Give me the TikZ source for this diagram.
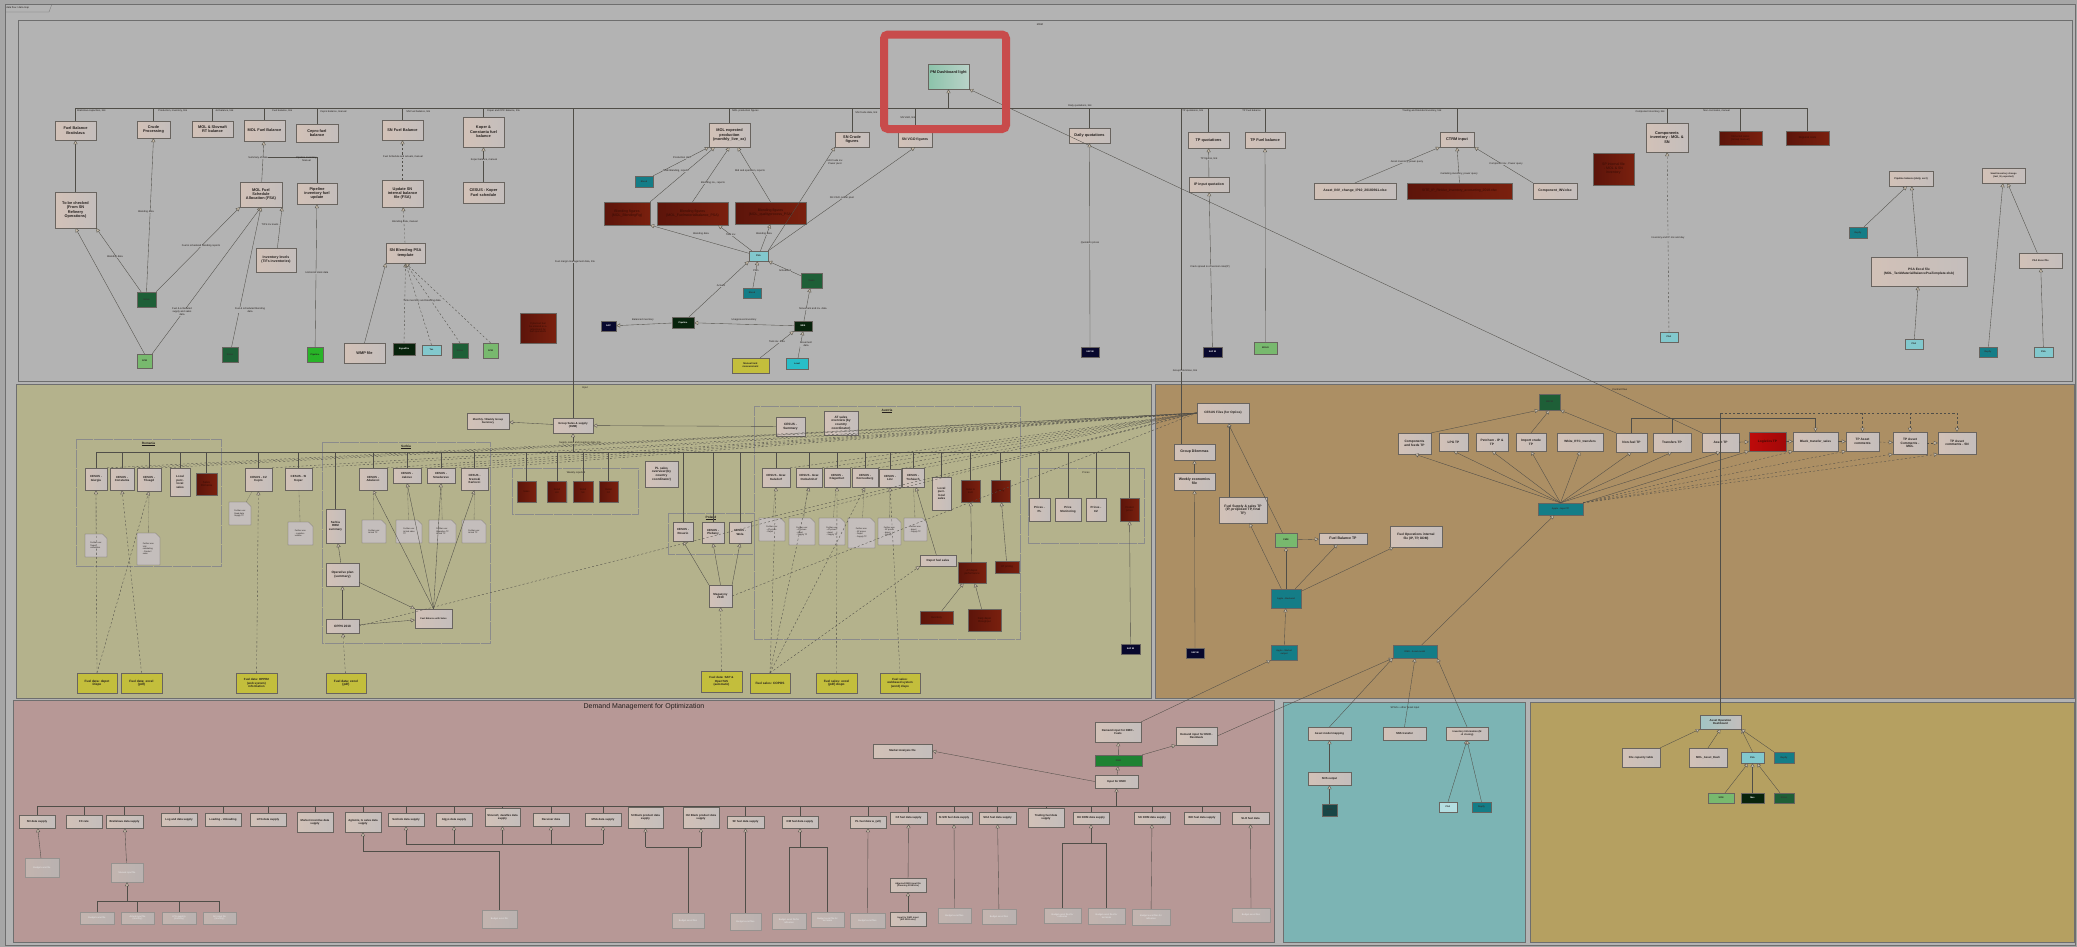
\documentclass[tikz,border=0pt]{standalone}
\usepackage{fontspec}
\setmainfont{Liberation Sans}
\usetikzlibrary{arrows.meta,shadows,shapes.misc}

\definecolor{bgout}{RGB}{166,166,166}
\definecolor{bgtop}{RGB}{179,179,179}
\definecolor{frame}{RGB}{110,110,110}
\definecolor{olivep}{RGB}{180,178,140}
\definecolor{brownp}{RGB}{172,143,100}
\definecolor{pinkp}{RGB}{183,152,150}
\definecolor{tealp}{RGB}{124,180,180}
\definecolor{mustp}{RGB}{181,160,97}
\definecolor{boxl}{RGB}{210,193,183}
\definecolor{boxr}{RGB}{196,190,188}
\definecolor{boxline}{RGB}{105,100,95}
\definecolor{ink}{RGB}{35,30,28}
\definecolor{edge}{RGB}{80,78,72}
\definecolor{arrfill}{RGB}{200,188,170}
\definecolor{drl}{RGB}{92,20,10}
\definecolor{drr}{RGB}{122,32,14}
\definecolor{drtext}{RGB}{55,12,5}
\definecolor{dgreen}{RGB}{30,95,55}
\definecolor{lgreen}{RGB}{120,185,110}
\definecolor{bgreen}{RGB}{40,180,40}
\definecolor{bkgreen}{RGB}{8,35,12}
\definecolor{lcyan}{RGB}{130,200,205}
\definecolor{tealb}{RGB}{20,125,135}
\definecolor{navyb}{RGB}{8,8,45}
\definecolor{yelb}{RGB}{195,190,60}
\definecolor{cyanb}{RGB}{40,190,200}
\definecolor{dmog}{RGB}{30,130,50}
\definecolor{redb}{RGB}{190,10,10}
\definecolor{dteal}{RGB}{25,70,70}
\definecolor{pml}{RGB}{140,195,170}
\definecolor{pmr}{RGB}{185,210,200}
\definecolor{hl}{RGB}{200,75,75}
\definecolor{fadel}{RGB}{195,180,175}
\definecolor{fader}{RGB}{185,178,176}

\tikzset{
  sz/.style 2 args={minimum width=#1*0.5mm, minimum height=#2*0.5mm},
  shad/.style={drop shadow={shadow xshift=0.5mm, shadow yshift=-0.5mm, opacity=0.35}},
  box/.style={draw=boxline, left color=boxl, right color=boxr, text=ink, align=center,
    inner sep=0.4pt, font=\fontsize{5.5}{6.3}\selectfont\bfseries, shad},
  pbox/.style={box, font=\fontsize{4}{4.6}\selectfont\bfseries},
  fbox/.style={draw=boxline!70, left color=fadel, right color=fader, text=white!85!gray, align=center,
    inner sep=0.3pt, font=\fontsize{3.3}{3.8}\selectfont, shad},
  dbox/.style={draw=boxline, left color=drl, right color=drr, text=drtext, align=center,
    inner sep=0.4pt, font=\fontsize{5}{5.6}\selectfont, shad},
  sys/.style 2 args={draw=boxline, fill=#1, text=#2, align=center, inner sep=0.3pt,
    font=\fontsize{3.2}{3.6}\selectfont\bfseries, shad},
  ybox/.style={draw=boxline, fill=yelb, text=ink, align=center, inner sep=0.4pt,
    font=\fontsize{4.5}{5.1}\selectfont\bfseries, shad},
  notebox/.style={draw=boxline, fill=boxr, chamfered rectangle, chamfered rectangle corners=north east,
    chamfered rectangle xsep=1mm, text=ink, align=left, inner sep=0.3pt, font=\fontsize{3}{3.5}\selectfont},
  pmbox/.style={box, left color=pml, right color=pmr},
  grp/.style={draw=frame!80, densely dotted, line width=0.5pt},
  gt/.style={font=\fontsize{4.5}{5}\selectfont\bfseries, text=ink, inner sep=0.5pt},
  ed/.style={draw=edge, line width=0.5pt},
  ar/.style={ed, -{Triangle[length=2mm, width=2mm, fill=arrfill]}},
  dar/.style={ar, dashed},
  dl/.style={ed, dashed},
  lab/.style={font=\fontsize{3.6}{4.2}\selectfont, text=ink, inner sep=0.3pt, align=center}
}

\begin{document}
\begin{tikzpicture}[x=0.5mm, y=-0.5mm]
  % frame and panels
  \useasboundingbox (0,0) rectangle (2077,947);
  \fill[bgout] (0,0) rectangle (2077,947);
  \draw[frame, fill=bgtop] (5,4) rectangle (2075,945);
  \draw[frame] (5,12) -- (49,12) -- (52,4);
  \node[lab, anchor=west] (tab) at (6,8) {data flow / data map};
  \draw[frame, fill=bgtop] (18,20) rectangle (2072,381);
  \draw[frame, fill=olivep] (16,384) rectangle (1151,698);
  \draw[frame, fill=brownp] (1155,384) rectangle (2074,698);
  \draw[frame, fill=pinkp] (13,700) rectangle (1274,942);
  \draw[frame, fill=tealp] (1283,702) rectangle (1525,942);
  \draw[frame, fill=mustp] (1530,702) rectangle (2074,942);
  \node[lab] (mdm) at (1040,25) {MDM};
  \node[lab] (inp) at (585,388) {Input};
  \node[font=\fontsize{10}{12}\selectfont, text=ink] (dmtitle) at (644,707) {Demand Management for Optimization};
  \node[lab] (spgstitle) at (1405,708) {SPGS + other asset input};

  % MDM panel
  \node[box, sz={41}{19}] (fbb) at (75.5,130.5) {Fuel Balance\\Bratislava};
  \node[box, sz={33}{17}] (crude) at (153.5,129.5) {Crude\\Processing};
  \node[box, sz={41}{16}] (molslov) at (212.5,129) {MOL \& Slovnaft\\RT balance};
  \node[box, sz={41}{21}] (molfb) at (264.5,130.5) {MOL Fuel Balance};
  \node[box, sz={42}{18}] (cepro) at (317,133) {Cepro fuel\\balance};
  \node[box, sz={41}{20}] (snfb) at (402.5,130) {SN Fuel Balance};
  \node[box, sz={41}{30}] (koper) at (483.5,132) {Koper \&\\Constanta fuel\\balance};
  \node[box, sz={41}{36}] (tobe) at (75.5,210) {To be checked\\(From SN\\Refinery\\Operations)};
  \node[box, sz={42}{25}] (fsa) at (261,194.5) {MOL Fuel\\Schedule\\Allocation (FSA)};
  \node[box, sz={40}{21}] (pipinv) at (317,193.5) {Pipeline\\inventory fuel\\update};
  \node[box, sz={40}{24}, font=\fontsize{5}{5.8}\selectfont\bfseries] (invlev) at (276,260) {Inventory levels\\(TIFs inventories)};
  \node[box, sz={41}{27}] (updsn) at (402.5,193.5) {Update SN\\internal balance\\file (FSA)};
  \node[box, sz={39}{20}] (snbl) at (405.5,253) {SN Blending PSA\\template};
  \node[box, sz={41}{21}] (cesko) at (483.5,192.5) {CESUS - Koper\\Fuel schedule};
  \node[sys={dgreen}{black!80}, sz={19}{15}] (sdg1) at (146.5,299.5) {Sirius};
  \node[sys={lgreen}{ink}, sz={15}{14}] (slg1) at (144.5,361) {SCM};
  \node[sys={dgreen}{black!80}, sz={16}{15}] (sdg2) at (230,354.5) {Sirius};
  \node[sys={bgreen}{ink}, sz={16}{15}] (sbg) at (315,354.5) {Pipeline};
  \node[box, sz={41}{20}] (wmp) at (364.5,353) {WMP file};
  \node[sys={bkgreen}{white!50}, sz={22}{12}] (sbk1) at (404,349) {Signalfire};
  \node[sys={lcyan}{ink}, sz={19}{10}] (slc1) at (431.5,350) {Tas};
  \node[sys={dgreen}{black!80}, sz={16}{15}] (sdg3) at (460,350.5) {Sirius};
  \node[sys={lgreen}{ink}, sz={15}{15}] (slg2) at (490.5,350.5) {SCM};
  \node[dbox, sz={36}{30}, font=\fontsize{3.5}{4}\selectfont] (dr4) at (538,328) {If planned fuel\\be entered as a\\adjustment by\\fuel operations};

  \node[box, sz={41}{24}] (molexp) at (729.5,135) {MOL expected\\production\\(monthly\_live\_xx)};
  \node[box, sz={34}{15}] (sncr) at (852,139.5) {SN Crude\\figures};
  \node[box, sz={34}{15}, font=\fontsize{5}{5.8}\selectfont\bfseries] (snvgo) at (915,139.5) {SN VGO figures};
  \node[pmbox, sz={41}{25}] (pm) at (948.5,76.5) {PM Dashboard light\\[6pt]\mbox{}};
  \node[sys={tealb}{black!80}, sz={18}{11}] (teal1) at (644,181.5) {Blend};
  \node[dbox, sz={46}{23}] (dr1) at (627,213.5) {Blending figures\\(MOL\_BlendingFig)};
  \node[dbox, sz={71}{23}] (dr2) at (692.5,213.5) {Blending figures\\(MOL\_Fuelmaterialbalance\_PSA)};
  \node[dbox, sz={71}{22}] (dr3) at (770.5,213) {Blending figures\\(MOL\_qualityprocess\_PSA)};
  \node[sys={lcyan}{ink}, sz={19}{10}] (psa1) at (758.5,256) {PSA};
  \node[sys={tealb}{black!80}, sz={18}{10}] (teal2) at (752,293) {Blend};
  \node[sys={dgreen}{black!80}, sz={21}{15}] (grn1) at (811.5,280.5) {Tanks};
  \node[sys={navyb}{white!60}, sz={15}{10}] (navy1) at (608.5,326) {SAP};
  \node[sys={bkgreen}{white!50}, sz={22}{11}] (dg4) at (683,322.5) {Pipeline};
  \node[sys={bkgreen}{white!50}, sz={18}{10}] (dg5) at (803,326) {MES};
  \node[ybox, sz={37}{15}, font=\fontsize{3.5}{4}\selectfont\bfseries] (yel1) at (750.5,365.5) {Manual tank\\measurement};
  \node[sys={cyanb}{ink}, sz={22}{11}] (cya1) at (797,363.5) {Level};

  \node[box, sz={41}{15}] (dailyq) at (1089.5,135.5) {Daily quotations};
  \node[box, sz={41}{16}] (tpq) at (1208.5,140) {TP quotations};
  \node[box, sz={40}{16}] (tpfb) at (1265,140) {TP Fuel balance};
  \node[box, sz={40}{15}, font=\fontsize{5}{5.8}\selectfont\bfseries] (ipq) at (1209,184.5) {IP input quotation};
  \node[box, sz={34}{15}] (ctrm) at (1457,139.5) {CTRM input};
  \node[box, sz={82}{16}, font=\fontsize{4.8}{5.4}\selectfont\bfseries] (xl1) at (1355,191) {Asset\_INV\_change\_IP10\_20180911.xlsx};
  \node[dbox, sz={105}{16}, font=\fontsize{4.8}{5.4}\selectfont] (dr5) at (1459.5,191) {SITE\_IP\_Rinkler\_inventory\_accounting\_2018.xlsx};
  \node[box, sz={44}{16}, font=\fontsize{4.8}{5.4}\selectfont\bfseries] (xl2) at (1555,191) {Component\_INV.xlsx};
  \node[sys={navyb}{white!60}, sz={18}{10}] (navy2) at (1090,352) {SAP BI};
  \node[sys={navyb}{white!60}, sz={19}{10}] (navy3) at (1212.5,352) {SAP BI};
  \node[sys={lgreen}{ink}, sz={23}{12}] (lg3) at (1265.5,348) {MOLO};

  \node[box, sz={42}{29}] (compinv) at (1667,137.5) {Components\\inventory - MOL \&\\SN};
  \node[dbox, sz={43}{14}, font=\fontsize{3.8}{4.3}\selectfont] (dr6) at (1740.5,138) {Non-cost sales\\(Group manual)};
  \node[dbox, sz={43}{14}, font=\fontsize{3.8}{4.3}\selectfont] (dr7) at (1807.5,138) {Regional costs};
  \node[dbox, sz={41}{32}, font=\fontsize{5}{5.8}\selectfont] (dr8) at (1613.5,169) {SP internal file\\- MOL \& SN\\inventory};
  \node[sys={lcyan}{ink}, sz={18}{10}] (psa2) at (1669,337) {PSA};
  \node[box, sz={44}{15}, font=\fontsize{3.5}{4}\selectfont\bfseries] (pipbal) at (1911,178.5) {Pipeline balance (daily, excl)};
  \node[sys={tealb}{black!80}, sz={18}{11}] (teal3) at (1858,232.5) {Repify};
  \node[box, sz={96}{29}, font=\fontsize{4.6}{5.4}\selectfont\bfseries] (psaxl) at (1919,271.5) {PSA Excel file\\(MOL\_TankMaterialBalancePsaTemplate.xlsb)};
  \node[sys={lcyan}{ink}, sz={18}{10}] (psa3) at (1914,344) {PSA};
  \node[box, sz={43}{15}, font=\fontsize{3.3}{3.9}\selectfont\bfseries] (sminv) at (2003.5,175.5) {Small inventory change\\(last\_M\_expected)};
  \node[sys={tealb}{black!80}, sz={18}{10}] (teal4) at (1988,352) {Repify};
  \node[box, sz={43}{15}, font=\fontsize{3.5}{4}\selectfont\bfseries] (psaxl2) at (2040.5,260.5) {PSA Excel file};
  \node[sys={lcyan}{ink}, sz={19}{10}] (psa4) at (2043.5,352) {PSA};

  % Input panel groups
  \draw[grp] (76,439) rectangle (221,566);
  \draw[grp] (322,442) rectangle (490,643);
  \draw[grp] (512,468) rectangle (638,514);
  \draw[grp] (668,513) rectangle (754,554);
  \draw[grp] (754,406) rectangle (1020,639);
  \draw[grp] (1028,468) rectangle (1144,543);
  \node[gt] (tro) at (148.5,444) {\underline{Romania}};
  \node[gt] (tse) at (406,447) {\underline{Serbia}};
  \node[lab] (twe) at (576,473) {Weekly reported};
  \node[gt] (tpo) at (711,518) {\underline{Poland}};
  \node[gt] (tau) at (887,411) {\underline{Austria}};
  \node[lab] (tpr) at (1086,473) {Prices};

  \node[box, sz={40}{15}, font=\fontsize{4}{4.6}\selectfont\bfseries] (grpsales) at (573,425.5) {Group Sales \& supply\\(FMM)};
  \node[box, sz={42}{16}, font=\fontsize{3.8}{4.4}\selectfont\bfseries] (monthly) at (488,421) {Monthly / Weekly Group\\Summary};
  \node[box, sz={29}{19}, font=\fontsize{4.5}{5.2}\selectfont\bfseries] (cesum) at (790.5,426.5) {CESUS -\\Summary};
  \node[box, sz={34}{24}, font=\fontsize{4.5}{5.2}\selectfont\bfseries] (atsales) at (841,423) {AT sales\\overview (by\\country\\coordinator)};

  \node[box, sz={22}{22}, font=\fontsize{4.2}{5}\selectfont\bfseries] (giur) at (96,479) {CESUS -\\Giurgiu};
  \node[box, sz={24}{22}, font=\fontsize{4.2}{5}\selectfont\bfseries] (const) at (122,479) {CESUS -\\Constanta};
  \node[box, sz={24}{23}, font=\fontsize{4.2}{5}\selectfont\bfseries] (tile) at (149,479.5) {CESUS -\\Tileagd};
  \node[box, sz={20}{28}, font=\fontsize{4.2}{5}\selectfont\bfseries] (rolocal) at (180,482) {Local\\purc.\\local\\sales};
  \node[dbox, sz={21}{22}, font=\fontsize{4}{4.6}\selectfont] (rodr) at (206.5,484) {Sales\\Romania};
  \node[notebox, sz={22}{23}] (note1) at (96,545.5) {Further use:\\Target\\calculation};
  \node[notebox, sz={23}{32}] (note2) at (148.5,549) {Further use:\\Unit\\calculating\\- Product\\sales};
  \node[box, sz={27}{23}, font=\fontsize{4.2}{5}\selectfont\bfseries] (czcepro) at (258.5,479.5) {CESUS - CZ\\Cepro};
  \node[box, sz={27}{22}, font=\fontsize{4.2}{5}\selectfont\bfseries] (sikoper) at (298.5,479) {CESUS - SI\\Koper};
  \node[notebox, sz={22}{23}] (notecz) at (240,513.5) {Further use:\\Read data\\Supply TP};
  \node[notebox, sz={25}{23}] (notesi) at (300.5,533.5) {Further use:\\- Logistics\\volume};

  \node[box, sz={19}{34}, font=\fontsize{4.2}{5}\selectfont\bfseries] (rbm) at (335.5,526) {Serbia\\RBM\\summary};
  \node[box, sz={28}{22}, font=\fontsize{4.2}{5}\selectfont\bfseries] (adas) at (373,479) {CESUS -\\Adaševci};
  \node[box, sz={28}{15}, font=\fontsize{4.2}{5}\selectfont\bfseries] (jak) at (407,475.5) {CESUS -\\Jakovo};
  \node[box, sz={28}{15}, font=\fontsize{4.2}{5}\selectfont\bfseries] (smed) at (441,475.5) {CESUS -\\Smederevo};
  \node[box, sz={27}{22}, font=\fontsize{4.2}{5}\selectfont\bfseries] (srem) at (474.5,479) {CESUS -\\Sremski\\Karlovci};
  \node[notebox, sz={24}{23}] (nse1) at (374,531.5) {Further use:\\Actual TP};
  \node[notebox, sz={26}{23}] (nse2) at (409,531.5) {Further use:\\Actual sales\\TP};
  \node[notebox, sz={27}{23}] (nse3) at (442.5,531.5) {Further use:\\Operative TP\\Actual TP};
  \node[notebox, sz={24}{23}] (nse4) at (474,531.5) {Further use:\\Actual TP};
  \node[box, sz={33}{23}, font=\fontsize{4.5}{5.2}\selectfont\bfseries] (opplan) at (342.5,574.5) {Operative plan\\(summary)};
  \node[box, sz={33}{14}, font=\fontsize{4.5}{5.2}\selectfont\bfseries] (oppn) at (342.5,626) {OPPN 2018};
  \node[box, sz={37}{19}, font=\fontsize{3.3}{3.8}\selectfont\bfseries] (fbsales) at (433.5,618.5) {Fuel Balance with Sales};

  \node[dbox, sz={19}{21}, font=\fontsize{3.5}{4}\selectfont] (wdr1) at (526.5,491.5) {Sales};
  \node[dbox, sz={19}{21}, font=\fontsize{3.5}{4}\selectfont] (wdr2) at (557,491.5) {Retail\\HU};
  \node[dbox, sz={20}{21}, font=\fontsize{3.5}{4}\selectfont] (wdr3) at (583,491.5) {Retail\\SK};
  \node[dbox, sz={19}{21}, font=\fontsize{3.5}{4}\selectfont] (wdr4) at (608.5,491.5) {Retail\\CZ};
  \node[box, sz={33}{26}, font=\fontsize{4.5}{5.2}\selectfont\bfseries] (plsales) at (661.5,474) {PL sales\\overview (by\\country\\coordinator)};

  \node[box, sz={20}{19}, font=\fontsize{4.2}{5}\selectfont\bfseries] (pl1) at (683,531.5) {CESUS -\\Rosario};
  \node[box, sz={22}{21}, font=\fontsize{4.2}{5}\selectfont\bfseries] (pl2) at (713,532.5) {CESUS -\\Plebany};
  \node[box, sz={22}{21}, font=\fontsize{4.2}{5}\selectfont\bfseries] (pl3) at (740,532.5) {CESUS -\\Wola};
  \node[box, sz={23}{22}, font=\fontsize{4.2}{5}\selectfont\bfseries] (mag) at (720.5,596) {Magazyny\\2018};

  \node[box, sz={28}{19}, font=\fontsize{4.2}{5}\selectfont\bfseries] (at1) at (776,477.5) {CESUS - Graz\\Kalsdorf};
  \node[box, sz={26}{19}, font=\fontsize{4.2}{5}\selectfont\bfseries] (at2) at (809,477.5) {CESUS - Graz\\Ostbahnhof};
  \node[box, sz={26}{19}, font=\fontsize{4.2}{5}\selectfont\bfseries] (at3) at (837,477.5) {CESUS -\\Klagenfurt};
  \node[box, sz={26}{19}, font=\fontsize{4.2}{5}\selectfont\bfseries] (at4) at (865,477.5) {CESUS -\\Korneuburg};
  \node[box, sz={22}{18}, font=\fontsize{4.2}{5}\selectfont\bfseries] (at5) at (890,478) {CESUS -\\Linz};
  \node[box, sz={22}{19}, font=\fontsize{4.2}{5}\selectfont\bfseries] (at6) at (913,477.5) {CESUS -\\Trofaiach};
  \node[box, sz={19}{33}, font=\fontsize{4.2}{5}\selectfont\bfseries] (atlocal) at (941.5,493.5) {Local\\purc.\\local\\sales};
  \node[dbox, sz={19}{22}, font=\fontsize{3.5}{4}\selectfont] (atdr1) at (970.5,491) {Sales to\\ELR};
  \node[dbox, sz={19}{22}, font=\fontsize{3.5}{4}\selectfont] (atdr2) at (1000.5,491) {Pricing};
  \node[notebox, sz={26}{23}] (nat1) at (772,529.5) {Further use:\\- AT-prices\\- Depot};
  \node[notebox, sz={26}{27}] (nat2) at (802,531.5) {Further use:\\- AT-prices\\- depot\\- Supply TP};
  \node[notebox, sz={26}{27}] (nat3) at (832,531.5) {Further use:\\- AT-prices\\- depot\\- Supply TP};
  \node[notebox, sz={27}{30}] (nat4) at (861.5,533) {Further use:\\- AT-prices\\- Depot\\- Supply TP};
  \node[notebox, sz={23}{27}] (nat5) at (889.5,531.5) {Further use:\\- AT-prices\\- depot\\- Supply};
  \node[notebox, sz={23}{23}] (nat6) at (915.5,529.5) {Further use:\\- depot\\- Supply TP};
  \node[box, sz={36}{11}, font=\fontsize{4.2}{5}\selectfont\bfseries] (depot) at (938,560.5) {Depot fuel sales};
  \node[dbox, sz={28}{21}, font=\fontsize{3.8}{4.4}\selectfont] (atdr3) at (972,572.5) {AT depot\\performance};
  \node[dbox, sz={24}{12}, font=\fontsize{3.8}{4.4}\selectfont] (atdr4) at (1007,567) {AT pricing};
  \node[dbox, sz={33}{13}, font=\fontsize{3.8}{4.4}\selectfont] (atdr5) at (936.5,617.5) {Inventory};
  \node[dbox, sz={33}{22}, font=\fontsize{3.8}{4.4}\selectfont] (atdr6) at (984.5,620) {Daily depot\\throughput};

  \node[box, sz={21}{23}, font=\fontsize{4.2}{5}\selectfont\bfseries] (prpl) at (1039.5,509.5) {Prices -\\PL};
  \node[box, sz={26}{23}, font=\fontsize{4.2}{5}\selectfont\bfseries] (prmon) at (1068,509.5) {Price\\Monitoring};
  \node[box, sz={20}{23}, font=\fontsize{4.2}{5}\selectfont\bfseries] (prcz) at (1096,509.5) {Prices -\\CZ};
  \node[dbox, sz={19}{23}, font=\fontsize{3.5}{4}\selectfont] (prdr) at (1129.5,509.5) {Product\\prices};
  \node[sys={navyb}{white!60}, sz={19}{10}] (navy4) at (1130.5,649) {SAP BI};

  \node[ybox, sz={40}{20}] (y1) at (97,683) {Fuel data: depot\\Dispo};
  \node[ybox, sz={41}{20}] (y2) at (141.5,683) {Fuel data: excel\\(pdf)};
  \node[ybox, sz={41}{20}, font=\fontsize{4.2}{4.8}\selectfont\bfseries] (y3) at (256.5,683) {Fuel data: OPPR2\\(web system)\\information};
  \node[ybox, sz={40}{20}] (y4) at (346,683) {Fuel data: excel\\(pdf)};
  \node[ybox, sz={41}{21}, font=\fontsize{4.2}{4.8}\selectfont\bfseries] (y5) at (721.5,681.5) {Fuel data: SAP \&\\OpenTAS\\(automatic)};
  \node[ybox, sz={40}{20}] (y6) at (770,683) {Fuel sales: COPOS};
  \node[ybox, sz={41}{20}] (y7) at (836.5,683) {Fuel sales: excel\\(pdf) dispo};
  \node[ybox, sz={40}{20}, font=\fontsize{4.2}{4.8}\selectfont\bfseries] (y8) at (900,683) {Fuel sales:\\webbased system\\(word) dispo};

  % asset panel
  \node[box, sz={52}{20}, font=\fontsize{4.5}{5.2}\selectfont\bfseries] (cesfiles) at (1223,413) {CESUS Files (for OpCos)};
  \node[box, sz={41}{16}, font=\fontsize{5}{5.8}\selectfont\bfseries] (grpdil) at (1194.5,452) {Group Dilemmas};
  \node[box, sz={41}{17}, font=\fontsize{5}{5.8}\selectfont\bfseries] (wecon) at (1194.5,481.5) {Weekly economics\\file};
  \node[sys={navyb}{white!60}, sz={18}{10}] (navy5) at (1195,653) {SAP BI};
  \node[box, sz={48}{26}, font=\fontsize{4.8}{5.5}\selectfont\bfseries] (fstp) at (1243,510) {Fuel Supply \& sales TP\\(IP, proposed TP, final\\TP)};
  \node[sys={lgreen}{ink}, sz={22}{14}] (lgsap) at (1286,540) {FMM};
  \node[box, sz={48}{11}, font=\fontsize{5}{5.8}\selectfont\bfseries] (fbtp) at (1343,538.5) {Fuel Balance TP};
  \node[box, sz={52}{21}, font=\fontsize{4.6}{5.3}\selectfont\bfseries] (fopi) at (1416,536.5) {Fuel Operations internal\\file (IP, TP, DDM)};
  \node[sys={tealb}{black!80}, sz={30}{19}] (teal5) at (1286,598.5) {Apple - Backend};
  \node[sys={tealb}{black!80}, sz={26}{15}] (teal6) at (1284,652.5) {Apple - Market\\output};
  \node[sys={tealb}{black!80}, sz={44}{13}] (teal7) at (1415,651.5) {DMO - Asset model};
  \node[sys={tealb}{black!80}, sz={45}{12}] (teal8) at (1560.5,509) {Apple - Input TP};
  \node[sys={dgreen}{black!80}, sz={21}{16}] (dg6) at (1549.5,402) {MSCM};
  \node[box, sz={33}{21}, font=\fontsize{4.6}{5.3}\selectfont\bfseries] (tp1) at (1414.5,443.5) {Components\\and feeds TP};
  \node[box, sz={29}{18}, font=\fontsize{4.6}{5.3}\selectfont\bfseries] (tp2) at (1453.5,442) {LPG TP};
  \node[box, sz={32}{18}, font=\fontsize{4.6}{5.3}\selectfont\bfseries] (tp3) at (1492,442) {Petchem - IP \&\\TP};
  \node[box, sz={30}{18}, font=\fontsize{4.6}{5.3}\selectfont\bfseries] (tp4) at (1531,442) {Import crude\\TP};
  \node[box, sz={46}{18}, font=\fontsize{4.4}{5.1}\selectfont\bfseries] (tp5) at (1580,442) {White\_RTC\_transfers};
  \node[box, sz={31}{19}, font=\fontsize{4.6}{5.3}\selectfont\bfseries] (tp6) at (1631.5,442.5) {Non-fuel TP};
  \node[box, sz={38}{19}, font=\fontsize{4.6}{5.3}\selectfont\bfseries] (tp7) at (1672,442.5) {Transfers TP};
  \node[box, sz={37}{19}, font=\fontsize{4.6}{5.3}\selectfont\bfseries] (tp8) at (1720.5,442.5) {Asset TP};
  \node[box, sz={37}{19}, left color=redb, right color=redb!85!black, text=drtext, font=\fontsize{4.6}{5.3}\selectfont\bfseries] (tp9) at (1767.5,441.5) {Logistics TP};
  \node[box, sz={45}{19}, font=\fontsize{4.4}{5.1}\selectfont\bfseries] (tp10) at (1815.5,441.5) {Black\_transfer\_sales};
  \node[box, sz={33}{19}, font=\fontsize{4.6}{5.3}\selectfont\bfseries] (tp11) at (1862.5,441.5) {TP Asset\\comments};
  \node[box, sz={34}{22}, font=\fontsize{4.6}{5.3}\selectfont\bfseries] (tp12) at (1910,443) {TP Asset\\Comments -\\MOL};
  \node[box, sz={38}{22}, font=\fontsize{4.6}{5.3}\selectfont\bfseries] (tp13) at (1957,443) {TP Asset\\comments - SN};

  % demand management panel
  \node[pbox, sz={36}{13}] (d1) at (37,821.5) {SN data supply};
  \node[pbox, sz={36}{13}] (d2) at (84,821.5) {FX rate};
  \node[pbox, sz={37}{13}] (d3) at (124.5,821.5) {Bratislava data supply};
  \node[pbox, sz={36}{13}] (d4) at (179,819.5) {Log and data supply};
  \node[pbox, sz={36}{13}] (d5) at (223,819.5) {Loading - Unloading};
  \node[pbox, sz={36}{13}] (d6) at (268,819.5) {LPG data supply};
  \node[pbox, sz={36}{20}] (d7) at (315,822) {Market incentive data\\supply};
  \node[pbox, sz={36}{20}] (d8) at (363,822) {Aglomix, Ix sales data\\supply};
  \node[pbox, sz={36}{13}] (d9) at (406,819.5) {Szolnok data supply};
  \node[pbox, sz={36}{13}] (d10) at (454,819.5) {Algyo data supply};
  \node[pbox, sz={35}{18}] (d11) at (502.5,817) {Slovnaft, Javaflex data\\supply};
  \node[pbox, sz={36}{13}] (d12) at (551,819.5) {Receiver data};
  \node[pbox, sz={36}{13}] (d13) at (603,819.5) {MSA data supply};
  \node[pbox, sz={35}{21}] (d14) at (645.5,817.5) {SI Black product data\\supply};
  \node[pbox, sz={36}{21}] (d15) at (701,817.5) {HU Black product data\\supply};
  \node[pbox, sz={37}{12}] (d16) at (745.5,822) {SF fuel data supply};
  \node[pbox, sz={36}{12}] (d17) at (800,822) {DM fuel data supply};
  \node[pbox, sz={36}{12}] (d18) at (868,822) {PL fuel data w\_(all)};
  \node[pbox, sz={37}{12}] (d19) at (908.5,818) {CZ fuel data supply};
  \node[pbox, sz={36}{12}] (d20) at (954,818) {SI-SW fuel data supply};
  \node[pbox, sz={37}{12}] (d21) at (997.5,818) {SKA fuel data supply};
  \node[pbox, sz={36}{19}] (d22) at (1046,817.5) {Trading fuel data\\supply};
  \node[pbox, sz={36}{12}] (d23) at (1091,818) {HU DOM data supply};
  \node[pbox, sz={36}{12}] (d24) at (1152,818) {SK DOM data supply};
  \node[pbox, sz={36}{12}] (d25) at (1202,818) {BIH fuel data supply};
  \node[pbox, sz={37}{12}] (d26) at (1250.5,818) {SLO fuel data};
  \node[pbox, sz={59}{14}] (market) at (902.5,751) {Market Analysis file};
  \node[pbox, sz={46}{20}] (dfuel) at (1118,732) {Demand input for DMO -\\Fuels};
  \node[pbox, sz={41}{18}] (dres) at (1196.5,736) {Demand input for DMO -\\Residuals};
  \node[sys={dmog}{black!80}, sz={47}{11}] (dmo) at (1118.5,760.5) {DMO};
  \node[pbox, sz={43}{13}] (inpdmo) at (1116.5,781.5) {Input for DMO};

  \node[fbox, sz={34}{19}] (b1) at (42,867.5) {Budget excel file};
  \node[fbox, sz={32}{19}] (b2) at (127,872.5) {Manual input file};
  \node[fbox, sz={34}{12}] (b3) at (97,918) {Budget excel file};
  \node[fbox, sz={33}{12}] (b4) at (137.5,918) {Actual input file\\(monthly)};
  \node[fbox, sz={34}{12}] (b5) at (179,918) {LPG quantity\\(monthly)};
  \node[fbox, sz={33}{12}] (b6) at (219.5,918) {AVI input file\\(monthly)};
  \node[fbox, sz={35}{18}] (b7) at (499.5,919) {Budget excel file};
  \node[fbox, sz={32}{15}] (b8) at (688,920.5) {Budget excel files};
  \node[fbox, sz={31}{17}] (b9) at (745.5,921.5) {Budget excel files};
  \node[fbox, sz={34}{16}] (b10) at (789,921) {Budget excel file for\\refineries};
  \node[fbox, sz={33}{15}] (b11) at (827.5,919.5) {Budget excel file for\\terminals};
  \node[fbox, sz={35}{15}] (b12) at (867.5,920.5) {Budget excel files};
  \node[pbox, sz={36}{14}, font=\fontsize{3.2}{3.7}\selectfont\bfseries] (czadj) at (908,885) {Adjusted DMO input file\\(Planning 2018.xlsx)};
  \node[pbox, sz={36}{14}, font=\fontsize{3.2}{3.7}\selectfont\bfseries] (czin) at (908,919) {Input for DMO input\\(BP 2018.xlsx)};
  \node[fbox, sz={33}{15}] (b13) at (954.5,915.5) {Budget excel files};
  \node[fbox, sz={34}{15}] (b14) at (999,916.5) {Budget excel files};
  \node[fbox, sz={37}{15}] (b15) at (1062.5,915.5) {Budget excel files for\\refineries};
  \node[fbox, sz={37}{16}] (b16) at (1106.5,916) {Budget excel files for\\terminals};
  \node[fbox, sz={38}{16}] (b17) at (1151,917) {Budget excel files for\\refineries};
  \node[fbox, sz={38}{14}] (b18) at (1251,915) {Budget excel files};

  % SPGS panel
  \node[pbox, sz={43}{13}] (amm) at (1329.5,733.5) {Asset model mapping};
  \node[pbox, sz={43}{13}] (snst) at (1404.5,733.5) {SNS transfer};
  \node[pbox, sz={42}{13}, font=\fontsize{3.5}{4}\selectfont\bfseries] (invinf) at (1467,733.5) {Inventory Information (M\\+2 closing)};
  \node[pbox, sz={43}{13}] (snso) at (1329.5,778.5) {SNS output};
  \node[sys={dteal}{black!80}, sz={15}{12}] (spgs) at (1329.5,810) {SPGS};
  \node[sys={lcyan!60!white}{ink}, sz={18}{10}] (psa6) at (1448,807) {PSA};
  \node[sys={tealb}{black!80}, sz={19}{10}] (rep2) at (1481.5,807) {Repify};

  % dashboard panel
  \node[pbox, sz={41}{14}, left color=lcyan!60!boxl, right color=boxr] (aod) at (1720.5,722) {Asset Operation\\Dashboard};
  \node[pbox, sz={38}{19}] (fcap) at (1641,757.5) {File capacity table};
  \node[pbox, sz={38}{19}] (molad) at (1708,757.5) {MOL\_Asset\_Dash};
  \node[sys={lcyan}{ink}, sz={23}{11}] (psa5) at (1752.5,757.5) {PSA};
  \node[sys={tealb}{black!80}, sz={20}{11}] (rep3) at (1784,757.5) {Repify};
  \node[sys={lgreen}{ink}, sz={26}{10}] (lg5) at (1721,798) {SCM};
  \node[sys={bkgreen}{white!50}, sz={23}{10}] (bk5) at (1752.5,798) {Mes};
  \node[sys={dgreen}{black!80}, sz={20}{10}] (dg7) at (1784,798) {Sirius};

  % MDM bus
  \coordinate (bus) at (0,108);
  \draw[ed] (fbb.north |- bus) -- (dr7.north |- bus);
  \foreach \n in {fbb,crude,molslov,molfb,cepro,snfb,koper,molexp,sncr,snvgo,dailyq,tpq,tpfb,ctrm,compinv,dr6,dr7,grpsales}
    \draw[ed] (\n.north) -- (\n.north |- bus);
  \draw[ar] (pm.south |- bus) -- (pm.south);
  \draw[ed] ([xshift=-6.5mm]grpdil.north) -- ([xshift=-6.5mm]grpdil.north |- bus);
  \draw[ar] (tp8.north west) -- (pm.south east);
  \node[lab, anchor=north west] (l1) at (77,109) {Bratislava capacities, link};
  \node[lab, anchor=north west] (l2) at (158,109) {Production, inventory, link};
  \node[lab, anchor=north west] (l3) at (215,109) {Jet balance, link};
  \node[lab, anchor=north west] (l4) at (272,109) {Fuel balance, link};
  \node[lab, anchor=north west] (l5) at (320,110) {Cepro balance, manual};
  \node[lab, anchor=north west] (l6) at (406,110) {SN Fuel balance, link};
  \node[lab, anchor=north west] (l7) at (487,109) {Koper and CPC balance, link};
  \node[lab, anchor=north west] (l8) at (732,109) {MOL production figures};
  \node[lab, anchor=north west] (l9) at (855,111) {SN Crude data, link};
  \node[lab, anchor=north west] (l10) at (900,116) {SN VGO, link};
  \node[lab, anchor=south west] (l11) at (1068,107) {Daily quotations, link};
  \node[lab, anchor=north west] (l12) at (1182,109) {TP quotations, link};
  \node[lab, anchor=north west] (l13) at (1242,109) {TP Fuel balance};
  \node[lab, anchor=north west] (l14) at (1402,109) {Trading and blended inventory, link};
  \node[lab, anchor=north east] (l15) at (1665,110) {Component inventory, link};
  \node[lab, anchor=north west] (l16) at (1703,109) {Non-cost sales, manual};
  \node[lab, fill=bgtop] (l17) at (575,262) {Fuel margin management data, link};
  \node[lab, fill=bgtop] (l18) at (1185,371) {Group Dilemmas, link};
  \node[lab, anchor=west] (l19) at (1612,390) {Contract flow};

  % MDM panel edges
  \draw[ar] (tobe) -- (fbb);
  \draw[ar] (sdg1) -- (tobe.south east);
  \draw[ar] (sdg1.north) -- (crude.south);
  \draw[ar] (sdg1.north east) -- (fsa.south west);
  \draw[ar] (slg1.north) -- (tobe.south);
  \draw[ar] (slg1.north east) -- (fsa.south);
  \draw[ar] (sdg2) -- (fsa.south);
  \draw[ar] (invlev) -- (fsa.south east);
  \draw[ar] (fsa) -- (molfb);
  \draw[ed] (pipinv.north) |- (molfb.south |- 0,157);
  \draw[ar] (sbg) -- (pipinv);
  \draw[ar] (wmp.north) -- (snbl.south west);
  \foreach \n in {sbk1,slc1,sdg3,slg2} \draw[dar] (\n.north) -- (snbl.south);
  \draw[dar] (snbl) -- (updsn);
  \draw[dar] (updsn) -- (snfb);
  \draw[ar] (cesko) -- (koper);
  \node[lab, fill=bgtop] (m1) at (115,257) {Blending data};
  \node[lab, fill=bgtop] (m2) at (146,212) {Blending data};
  \node[lab, fill=bgtop] (m3) at (201,246) {Fuel \& scheduled blending reports};
  \node[lab, fill=bgtop] (m4) at (182,312) {Fuel \& scheduled\\supply and sales\\data};
  \node[lab, fill=bgtop] (m5) at (250,310) {Fuel \& scheduled blending\\data};
  \node[lab, fill=bgtop] (m6) at (270,225) {TIFS inv levels};
  \node[lab, fill=bgtop] (m7) at (317,273) {Historical stock data};
  \node[lab, fill=bgtop] (m8) at (258,158) {Summary of data};
  \node[lab, anchor=west] (m9) at (296,159) {Pipeline inventory,\\Manual};
  \node[lab, fill=bgtop] (m10) at (403,157) {Fuel Schedule and actuals, manual};
  \node[lab, fill=bgtop] (m11) at (405,222) {Blending data, manual};
  \node[lab, fill=bgtop] (m12) at (484,160) {Koper balance, manual};
  \node[lab, fill=bgtop] (m13) at (422,301) {Tank inventory and blending data};

  \draw[ar] (teal1.north east) -- (molexp.south west);
  \draw[ar] (dr1.north east) -- ([xshift=3mm]molexp.south west);
  \draw[ar] (dr2.north) -- (molexp.south);
  \draw[ar] (dr3.north) -- ([xshift=4mm]molexp.south);
  \draw[ar] (psa1) -- (dr1.south east);
  \draw[ar] (psa1) -- ([xshift=-5mm]dr2.south east);
  \draw[ar] (psa1) -- (dr3.south);
  \draw[ar] (psa1.north east) -- (sncr.south west);
  \draw[ar] (psa1.north east) -- (snvgo.south);
  \draw[ar] (teal2) -- (psa1);
  \draw[ar] (grn1) -- (psa1.south east);
  \draw[ar] (dg4) -- (psa1.south west);
  \draw[ar] (dg5) -- (grn1);
  \draw[ar] (dg5) -- (dg4);
  \draw[ar] (dg4) -- (navy1);
  \draw[ar] (yel1) -- (dg5.south west);
  \draw[ar] (cya1) -- (dg5.south);
  \node[lab, fill=bgtop] (n1) at (682,158) {Production plan};
  \node[lab, fill=bgtop] (n2) at (676,171) {MSE Blending, reports};
  \node[lab, fill=bgtop] (n3) at (713,183) {Blending inv., reports};
  \node[lab, fill=bgtop] (n4) at (750,171) {Mid and operation, reports};
  \node[lab, fill=bgtop] (n5) at (835,162) {SN Crude inv.\\Power pivot};
  \node[lab, fill=bgtop] (n6) at (842,198) {SN VGO, power pivot};
  \node[lab, fill=bgtop] (n7) at (701,234) {Blending data};
  \node[lab, fill=bgtop] (n8) at (731,235) {Tank inv.};
  \node[lab, fill=bgtop] (n9) at (764,234) {Blending data};
  \node[lab, fill=bgtop] (n10) at (756,271) {Plan};
  \node[lab, fill=bgtop] (n11) at (785,271) {Scheduled};
  \node[lab, fill=bgtop] (n12) at (721,286) {Actuals};
  \node[lab, fill=bgtop] (n13) at (813,309) {Movement and inv. data};
  \node[lab, fill=bgtop] (n14) at (744,320) {Unapproved inventory};
  \node[lab, fill=bgtop] (n15) at (643,320) {Balanced inventory};
  \node[lab, fill=bgtop] (n16) at (777,342) {Tank inv. data};
  \node[lab, fill=bgtop] (n17) at (806,344) {Movement\\data};

  \draw[ar] (navy2) -- (dailyq);
  \draw[ar] (navy3) -- (ipq);
  \draw[ar] (ipq) -- (tpq);
  \draw[ar] (lg3) -- (tpfb);
  \draw[ar] (xl1.north) -- (ctrm.south west);
  \draw[ar] (dr5.north) -- (ctrm.south);
  \draw[ar] (xl2.north west) -- (ctrm.south east);
  \node[lab, fill=bgtop] (q1) at (1090,243) {Quotation prices};
  \node[lab, fill=bgtop] (q2) at (1209,159) {TP figures, link};
  \node[lab, fill=bgtop] (q3) at (1210,267) {Crack spread \& conversion rate(IP)};
  \node[lab, fill=bgtop] (q4) at (1407,162) {Asset inventory, power query};
  \node[lab, fill=bgtop] (q5) at (1459,174) {marketing inventory, power query};
  \node[lab, fill=bgtop] (q6) at (1506,164) {Component inv., Power query};

  \draw[dar] (psa2) -- (compinv);
  \draw[ar] (teal3) -- ([xshift=-2mm]pipbal.south);
  \draw[ar] (psaxl) -- (pipbal);
  \draw[ar] (psa3) -- (psaxl);
  \draw[ar] (teal4) -- (sminv);
  \draw[ar] (psaxl2) -- ([xshift=2mm]sminv.south);
  \draw[ar] (psa4) -- (psaxl2);
  \node[lab, fill=bgtop] (q7) at (1668,238) {Inventory and IP mix and day};

  % Input panel edges
  \coordinate (ibus) at (0,452);
  \draw[ed] (giur.north |- ibus) -- (prdr.north |- ibus);
  \foreach \n in {giur,const,tile,rolocal,rodr,czcepro,sikoper,rbm,adas,jak,smed,srem,wdr1,wdr2,wdr3,wdr4,pl1,pl2,pl3,at1,at2,at3,at4,at5,at6,atlocal,atdr1,atdr2,prpl,prmon,prcz,prdr}
    \draw[ed] (\n.north) -- (\n.north |- ibus);
  \draw[ar] (grpsales.south |- ibus) -- (grpsales.south);
  \draw[ar] (grpsales) -- (monthly);
  \draw[ar] (cesum) -- (grpsales);
  \node[lab, fill=olivep] (s1) at (580,443) {Supply, sales and inventory data, link};
  \foreach \n in {giur,const,tile,czcepro,sikoper,adas,jak,smed,srem,pl3,at1,at2,at3,at4,at5,at6}
    \draw[dl] (\n.north east) -- (cesfiles.west);
  \draw[dl] (oppn.east) -- (cesfiles.west);
  \draw[dl] (mag.east) -- (cesfiles.west);
  \draw[ed, densely dotted] (note1) -- (giur);
  \draw[ed, densely dotted] (note2) -- (tile);
  \draw[ed, densely dotted] (notecz) -- (czcepro);
  \draw[ed, densely dotted] (notesi) -- (sikoper);
  \draw[ed, densely dotted] (nse1) -- (adas);
  \draw[ed, densely dotted] (nse2) -- (jak);
  \draw[ed, densely dotted] (nse3) -- (smed);
  \draw[ed, densely dotted] (nse4) -- (srem);
  \foreach \a/\b in {nat1/at1,nat2/at2,nat3/at3,nat4/at4,nat5/at5,nat6/at6}
    \draw[ed, densely dotted] (\a) -- (\b);
  \draw[dar] (y1.north) -- (giur.south);
  \draw[dar] (y1.north) -- (tile.south);
  \draw[dar] (y2.north) -- (const.south);
  \draw[dar] (y3) -- (czcepro);
  \draw[dar] (y4) -- (oppn);
  \draw[ar] (opplan) -- (rbm);
  \draw[ar] (oppn) -- (opplan);
  \draw[ar] (opplan) -- (fbsales.north west);
  \draw[ar] (oppn) -- (fbsales);
  \foreach \n in {adas,jak,smed,srem} \draw[ar] (fbsales.north) -- (\n.south);
  \draw[ar] (mag.north west) -- (pl1.south);
  \draw[ar] (mag.north) -- (pl2.south);
  \draw[ar] (mag.north east) -- (pl3.south);
  \draw[dar] (y5) -- (mag);
  \draw[dar] (y6.north) -- (at1.south);
  \draw[dar] (y6.north) -- (at2.south);
  \draw[dar] (y6.north) -- (at4.south);
  \draw[dar] (y6.north) -- (depot.south west);
  \draw[dar] (y7.north) -- (at3.south);
  \draw[dar] (y8.north) -- (at5.south);
  \draw[ar] (depot) -- (at6);
  \draw[ar] (atdr5) -- (atdr3);
  \draw[ar] (atdr6) -- (atdr3);
  \draw[ar] (atdr3) -- (atdr1);
  \draw[ar] (atdr4) -- (atdr2);
  \draw[ar] (navy4) -- (prdr);

  % asset panel edges
  \draw[ar] (navy5) -- (wecon);
  \draw[ar] (wecon) -- (grpdil);
  \draw[ar] ([xshift=-7mm]fstp.north) -- ([xshift=-7mm]fstp.north |- cesfiles.south);
  \draw[ar] (lgsap) -- (cesfiles);
  \draw[ar] (lgsap) -- (fbtp);
  \draw[ar] (teal5) -- (fstp);
  \draw[ar] (teal5) -- (lgsap);
  \draw[ar] (teal5) -- (fbtp);
  \draw[ar] (teal5) -- (fopi);
  \draw[ar] (teal6) -- (teal5);
  \draw[ar] (teal7) -- (teal8);
  \foreach \n in {tp1,tp2,tp3,tp4,tp5,tp6,tp7,tp8}
    \draw[ar] (teal8.north) -- (\n.south);
  \draw[ar] (teal8.north east) -- (tp9.south west);
  \foreach \n in {tp10,tp11,tp12,tp13}
    \draw[dar] (teal8.north east) -- (\n.south west);
  \draw[ar] (tp1.north east) -- (dg6.south west);
  \draw[ar] (tp4.north) -- (dg6.south);
  \draw[ar] (tp6.north west) -- (dg6.south east);
  \coordinate (tbus) at (0,418);
  \draw[ed] (tp6.north) -- (tp6.north |- tbus) -- (tp10.north |- tbus);
  \draw[ed] (tp7.north) -- (tp7.north |- tbus);
  \draw[ar] (tp10.north |- tbus) -- (tp10.north);
  \coordinate (dbus) at (0,413);
  \draw[ed] (aod.north) -- (aod.north |- dbus);
  \draw[dl] (aod.north |- dbus) -- (tp13.north |- dbus);
  \foreach \n in {tp11,tp12,tp13} \draw[dar] (\n.north |- dbus) -- (\n.north);
  \draw[ar] (tp8) -- (tp9);
  \draw[ar] (tp9) -- (tp10);
  \draw[ar] (tp10) -- (tp11);
  \draw[dar] (tp11) -- (tp12);
  \draw[dar] (tp12) -- (tp13);

  % demand management edges
  \coordinate (pbus) at (0,806);
  \draw[ed] (d1.north |- pbus) -- (d26.north |- pbus);
  \foreach \i in {1,...,26} \draw[ed] (d\i.north) -- (d\i.north |- pbus);
  \draw[ar] (inpdmo.south |- pbus) -- (inpdmo.south);
  \draw[ar] (inpdmo) -- (dmo);
  \draw[ar] (dmo) -- (dfuel);
  \draw[ar] (dmo.north east) -- (dres.south west);
  \draw[ar] (inpdmo.west) -- (market.east);
  \draw[ar] (dfuel.north east) -- (teal6.south west);
  \draw[ar] (dres.east) -- (teal7.south west);
  \draw[ar] (b1) -- (d1);
  \coordinate (eb1) at (0,901);
  \draw[ed] (b3.north) -- (b3.north |- eb1) -- (b6.north |- eb1) -- (b6.north);
  \draw[ed] (b4.north) -- (b4.north |- eb1);
  \draw[ed] (b5.north) -- (b5.north |- eb1);
  \draw[ar] (b2.south |- eb1) -- (b2.south);
  \draw[ar] (b2) -- (d3);
  \coordinate (eb2) at (0,844);
  \coordinate (eb3) at (0,851);
  \draw[ed] (b7.north) -- (b7.north |- eb3);
  \draw[ed] (d9.south |- eb2) -- (d13.south |- eb2);
  \foreach \i in {9,...,13} \draw[ar] (d\i.south |- eb2) -- (d\i.south);
  \draw[ed] (b7.north |- eb3) -- (d8.south |- eb3);
  \draw[ar] (d8.south |- eb3) -- (d8.south);
  \coordinate (eb4) at (0,847);
  \draw[ed] (b8.north) -- (b8.north |- eb4);
  \draw[ed] (d14.south |- eb4) -- (d15.south |- eb4);
  \draw[ar] (d14.south |- eb4) -- (d14.south);
  \draw[ar] (d15.south |- eb4) -- (d15.south);
  \draw[ar] (b9) -- (d16);
  \draw[ed] (b10.north) -- (b10.north |- eb4) -- (b11.north |- eb4) -- (b11.north);
  \draw[ar] (d17.south |- eb4) -- (d17.south);
  \draw[ar] (b12) -- (d18);
  \draw[ar] (czin) -- (czadj);
  \draw[ar] (czadj) -- (d19);
  \draw[ar] (b13) -- (d20);
  \draw[ar] (b14) -- (d21);
  \coordinate (eb5) at (0,843);
  \draw[ed] (b15.north) -- (b15.north |- eb5) -- (b16.north |- eb5) -- (b16.north);
  \draw[ar] (d23.south |- eb5) -- (d23.south);
  \draw[ar] (b17) -- (d24);
  \draw[ar] (b18) -- (d26);

  % SPGS and dashboard edges
  \draw[ar] (spgs) -- (snso);
  \draw[ar] (snso) -- (amm);
  \draw[ar] (psa6.north) -- (invinf.south);
  \draw[ar] (rep2.north) -- (invinf.south);
  \draw[ar] (amm.north) -- (teal7.south west);
  \draw[ar] (snst.north) -- (teal7.south);
  \draw[ar] (invinf.north) -- (teal7.south east);
  \draw[ar] (fcap.north east) -- (aod.south west);
  \draw[ar] (molad.north) -- (aod.south);
  \draw[ar] (psa5.north) -- (aod.south east);
  \draw[ar] (rep3.north west) -- (aod.south east);
  \draw[ar] (lg5) -- (psa5);
  \draw[ar] (bk5) -- (psa5);
  \draw[ar] (dg7) -- (psa5);

  % highlight
  \draw[hl, line width=4mm, rounded corners=2mm] (884,34.5) rectangle (1006,129);
\end{tikzpicture}
\end{document}
